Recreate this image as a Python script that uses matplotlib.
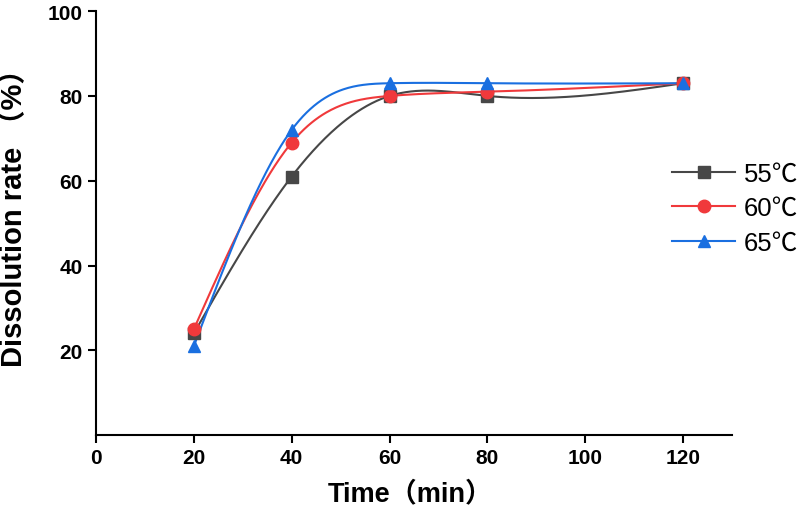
import numpy as np
import matplotlib
matplotlib.use("Agg")
import matplotlib.pyplot as plt
from matplotlib.lines import Line2D

time_min = [20, 40, 60, 80, 120]
rate_55 = [24, 61, 80, 80, 83]
rate_60 = [25, 69, 80, 81, 83]
rate_65 = [21, 72, 83, 83, 83]
labels = ["55℃", "60℃", "65℃"]
colors = ["#474747", "#f0393b", "#1a6fe0"]
markers = ["s", "o", "^"]

FAM = ["Liberation Sans", "Noto Sans CJK SC", "DejaVu Sans"]
plt.rcParams['font.family'] = FAM


def natural_spline(x, y, xs):
    x = np.asarray(x, float); y = np.asarray(y, float)
    n = len(x)
    h = np.diff(x)
    A = np.zeros((n, n)); b = np.zeros(n)
    A[0, 0] = 1; A[-1, -1] = 1
    for i in range(1, n - 1):
        A[i, i - 1] = h[i - 1]
        A[i, i] = 2 * (h[i - 1] + h[i])
        A[i, i + 1] = h[i]
        b[i] = 6 * ((y[i + 1] - y[i]) / h[i] - (y[i] - y[i - 1]) / h[i - 1])
    M = np.linalg.solve(A, b)
    ys = np.empty_like(xs)
    for k, xv in enumerate(xs):
        i = min(max(np.searchsorted(x, xv) - 1, 0), n - 2)
        t1 = x[i + 1] - xv; t0 = xv - x[i]
        ys[k] = (M[i] * t1 ** 3 + M[i + 1] * t0 ** 3) / (6 * h[i]) \
            + (y[i] / h[i] - M[i] * h[i] / 6) * t1 \
            + (y[i + 1] / h[i] - M[i + 1] * h[i] / 6) * t0
    return ys


fig = plt.figure(figsize=(8, 5.06), dpi=100)
ax = fig.add_axes([0.12, 0.138, 0.795, 0.838])

xs = np.linspace(min(time_min), max(time_min), 400)
handles = []
for ys_data, lab, c, m in zip([rate_55, rate_60, rate_65], labels, colors, markers):
    ax.plot(xs, natural_spline(time_min, ys_data, xs), color=c, lw=1.5, zorder=2)
    ms = 8 if m == "s" else 9
    ax.plot(time_min, ys_data, linestyle="none", marker=m, color=c,
            markersize=ms, zorder=3)
    handles.append(Line2D([0], [0], color=c, lw=1.5, marker=m, markersize=ms))

ax.set_xlim(0, 130)
ax.set_ylim(0, 100)
ax.set_xticks([0, 20, 40, 60, 80, 100, 120])
ax.set_yticks([20, 40, 60, 80, 100])
for s in ["top", "right"]:
    ax.spines[s].set_visible(False)
for s in ["left", "bottom"]:
    ax.spines[s].set_linewidth(1.5)
ax.tick_params(direction="out", width=1.5, length=6, labelsize=15)
for t in ax.get_xticklabels() + ax.get_yticklabels():
    t.set_fontweight("bold")

ax.set_xlabel("Time（min）", fontsize=19.5, fontweight="bold", va="baseline")
ax.xaxis.set_label_coords(0.494, -0.153)
ax.set_ylabel("Dissolution rate （%）", fontsize=21, fontweight="bold", va="baseline")
ax.yaxis.set_label_coords(-0.117, 0.532)

ax.legend(handles, labels, loc="center left", bbox_to_anchor=(0.906, 0.535),
          frameon=False, fontsize=18.5, handlelength=2.45, labelspacing=0.4,
          handletextpad=0.35, borderpad=0, borderaxespad=0)

fig.savefig("out.png", dpi=100)
